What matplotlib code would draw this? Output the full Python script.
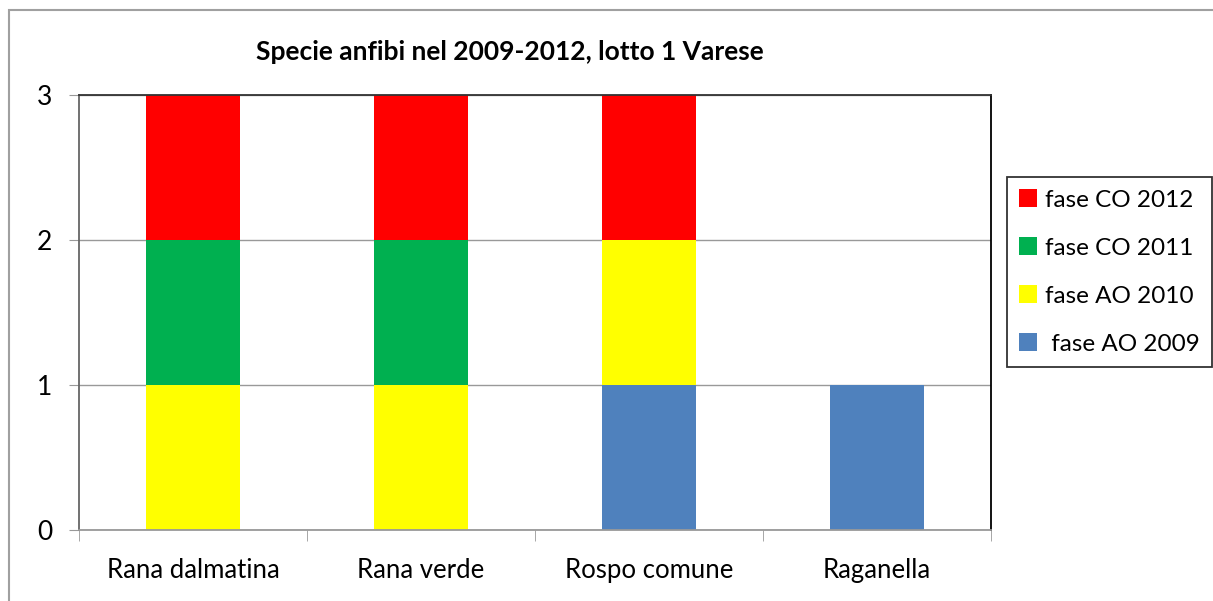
import numpy as np
import matplotlib.pyplot as plt
from matplotlib.patches import Rectangle, Patch

# dati
specie = ['Rana dalmatina', 'Rana verde', 'Rospo comune', 'Raganella']
ao_2009 = [0, 0, 1, 1]
ao_2010 = [1, 1, 1, 0]
co_2011 = [1, 1, 0, 0]
co_2012 = [1, 1, 1, 0]
etichette = ['fase CO 2012', 'fase CO 2011', 'fase AO 2010', ' fase AO 2009']
colori = ['#ff0000', '#00b050', '#ffff00', '#4f81bd']

plt.rcParams['font.family'] = ['Lato', 'DejaVu Sans']

fig = plt.figure(figsize=(12.13, 6.01), dpi=100)
ax = fig.add_axes([79 / 1213, 1 - 530 / 601, 912 / 1213, 435 / 601])

x = np.arange(len(specie))
serie = [ao_2009, ao_2010, co_2011, co_2012]
colori_serie = colori[::-1]
base = np.zeros(len(specie))
for vals, c in zip(serie, colori_serie):
    ax.bar(x, vals, width=0.41, bottom=base, color=c, zorder=2)
    base = base + np.array(vals)

ax.set_xlim(-0.5, len(specie) - 0.5)
ax.set_ylim(0, 3)
ax.set_yticks([0, 1, 2, 3])
ax.set_yticklabels(['0', '1', '2', '3'], fontsize=19)
ax.set_xticks(x)
ax.set_xticklabels(specie, fontsize=18.5)
ax.tick_params(axis='x', length=0, pad=20)
ax.tick_params(axis='y', length=7, color='#999999', pad=12)
# tacche tra le categorie
ax.set_xticks(np.arange(-0.5, len(specie)), minor=True)
ax.tick_params(axis='x', which='minor', length=8, color='#999999')

ax.grid(axis='y', color='#999999', linewidth=1, zorder=0)
ax.spines['top'].set_color('#333333')
ax.spines['right'].set_color('#000000')
ax.spines['left'].set_color('#666666')
ax.spines['bottom'].set_color('#999999')
for s in ax.spines.values():
    s.set_linewidth(1.3)

fig.text(510 / 1213, 1 - 52 / 601, 'Specie anfibi nel 2009-2012, lotto 1 Varese',
         ha='center', va='center', fontsize=19, fontweight='bold')

handles = [Patch(facecolor=c, edgecolor='none') for c in colori]
leg = fig.legend(handles, etichette, loc='upper left',
                 bbox_to_anchor=(1007 / 1213, 1 - 177 / 601),
                 fontsize=17.5, frameon=True, fancybox=False,
                 handlelength=0.75, handleheight=0.75, handletextpad=0.3,
                 labelspacing=1.1, borderpad=0.5, borderaxespad=0)
leg.get_frame().set_edgecolor('black')
leg.get_frame().set_linewidth(1.3)

# cornice esterna del grafico
fig.patches.append(Rectangle((9 / 1213, -0.05), 1.1, 1 - 10 / 601 + 0.05,
                             transform=fig.transFigure, fill=False,
                             edgecolor='#a0a0a0', linewidth=1.5))

fig.savefig('out.png', dpi=100)
